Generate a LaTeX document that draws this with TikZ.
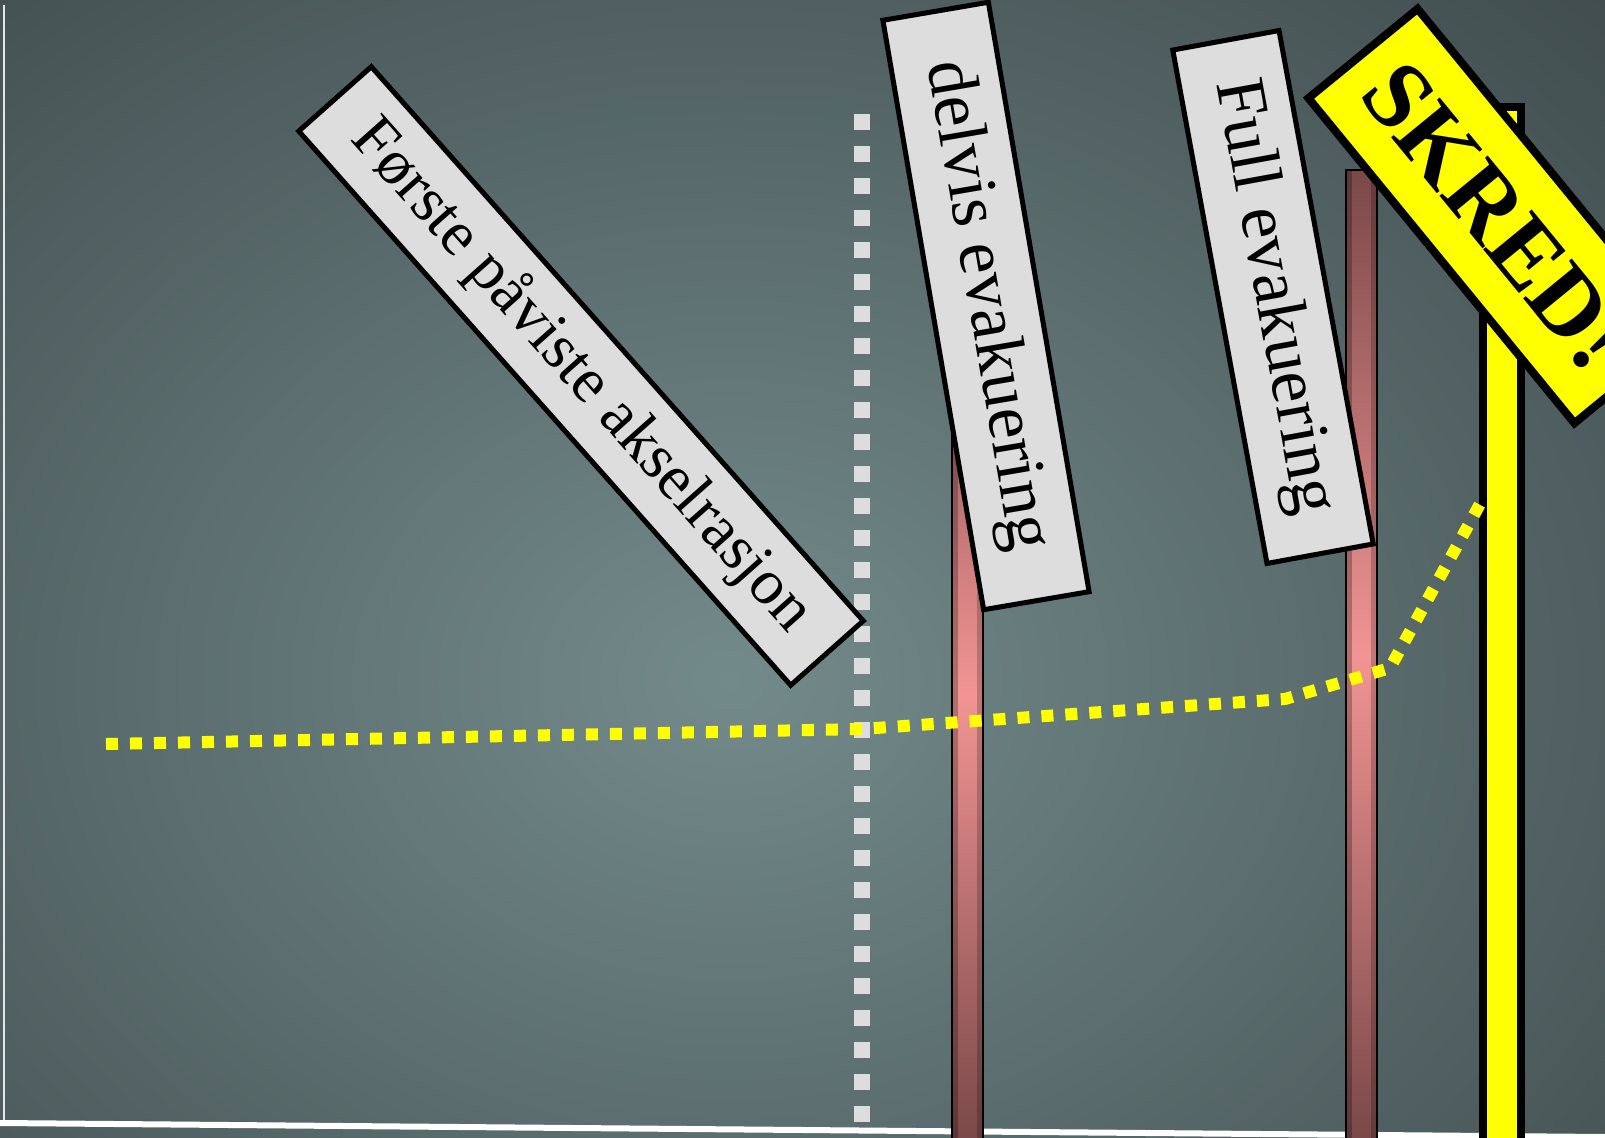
\documentclass[tikz,border=0pt]{standalone}
\usepackage{fontspec}
\setmainfont{Liberation Serif}
\definecolor{cBgDark}{HTML}{384244}
\definecolor{cBgLight}{HTML}{738A8B}
\definecolor{cSign}{HTML}{DDDDDD}
\definecolor{cWarn}{HTML}{FFFF00}
\definecolor{cRodDark}{HTML}{7A4848}
\definecolor{cRodLight}{HTML}{F29494}
\tikzset{
  sign/.style={draw, line width=2.5pt, fill=cSign, inner sep=0pt, align=center},
  warnsign/.style={draw, line width=4pt, fill=cWarn, inner sep=0pt,
    font=\fontsize{48}{56}\selectfont\bfseries},
  rod/.style={draw, line width=1pt, top color=cRodDark, bottom color=cRodDark,
    middle color=cRodLight},
  post/.style={draw, line width=4pt, fill=cWarn},
  trace/.style={draw=cWarn, line width=6pt, dash pattern=on 6pt off 6pt},
  marker/.style={draw=cSign, line width=8pt, dash pattern=on 8pt off 8pt},
  axis/.style={draw=white, line width=3pt},
}
\begin{document}
\begin{tikzpicture}[x=0.5pt, y=-0.5pt]
    \useasboundingbox (0,0) rectangle (1605,1138);
    % --- background ---
    \fill[cBgDark] (0,0) rectangle (1605,1138);
    \begin{scope}
      \clip (0,0) rectangle (1605,1138);
      \shade[inner color=cBgLight, outer color=cBgDark]
        (730,680) ellipse [x radius=1450, y radius=1150];
    \end{scope}
    % --- axes ---
    \draw[draw=white!80!gray, line width=1pt] (4,5) -- (4,1123);
    \draw[axis] (0,1123) -- (1605,1137);
    % --- first detection line ---
    \draw[marker] (862,114) -- (862,1140);
    % --- rods and post ---
    \foreach \x/\top in {952/250, 1346/170} {
      \draw[rod] (\x,\top) rectangle (\x+31,1140);
      \fill[black, opacity=.25] (\x,\top) rectangle (\x+6,1140);
      \fill[black, opacity=.2] (\x+25,\top) rectangle (\x+31,1140);
    }
    \draw[post] (1483,107) rectangle (1521,1145);
    % --- measured trace ---
    \draw[trace] (106,744) -- (862,729) -- (1285,699) -- (1390,668) -- (1480,504);
    % --- signs ---
    \node[sign, minimum width=370.5pt, minimum height=48.5pt, rotate=-48.4,
      font=\fontsize{32}{38}\selectfont] (forste) at (581,376) {Første påviste akselrasjon};
    \node[sign, minimum width=299pt, minimum height=53.5pt, rotate=-80.3,
      font=\fontsize{35}{42}\selectfont] (delvis) at (986,306) {delvis evakuering};
    \node[sign, minimum width=261pt, minimum height=54pt, rotate=-79.6,
      font=\fontsize{35}{42}\selectfont] (full) at (1273,297) {Full evakuering};
    \node[warnsign, minimum width=210pt, minimum height=70.5pt, rotate=-50.7]
      (skred) at (1496,216) {SKRED!};
  \end{tikzpicture}
\end{document}
